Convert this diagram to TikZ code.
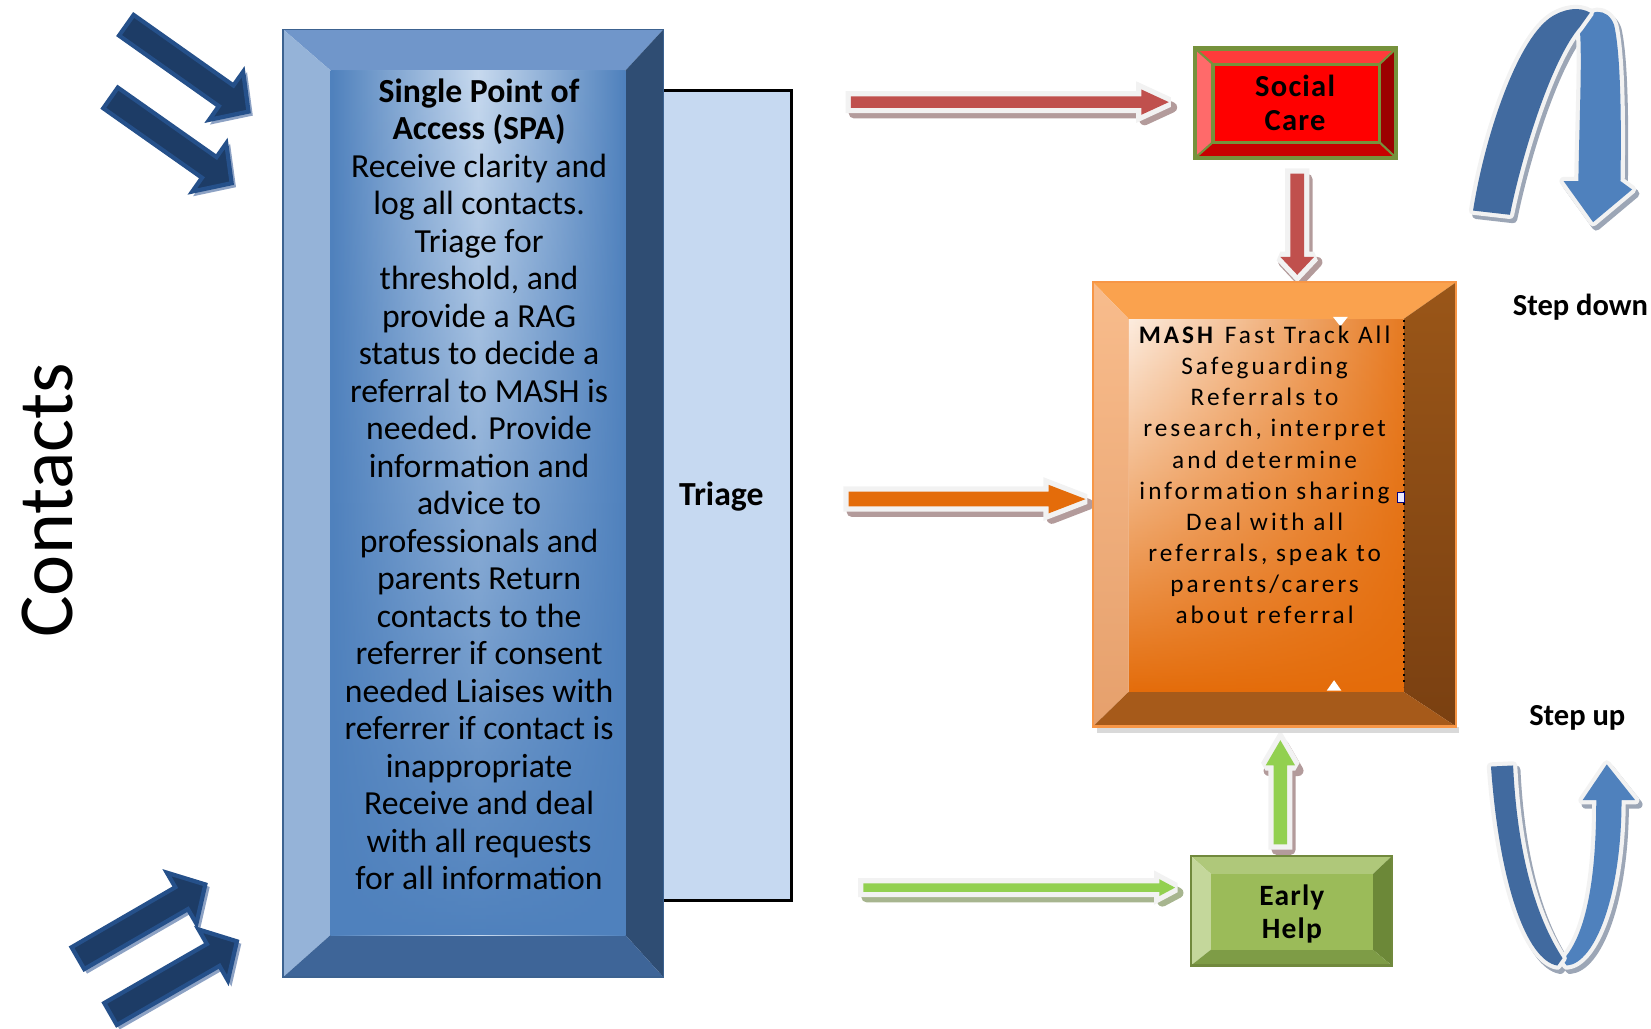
\documentclass[tikz,border=0pt]{standalone}
\usepackage{fontspec}
\setmainfont{Carlito}
\newfontfamily\mashfont[LetterSpace=12]{Carlito}
\newfontfamily\boxfont[LetterSpace=4]{Carlito}
\usetikzlibrary{calc,fadings}

\definecolor{spaTop}{HTML}{7096CA}
\definecolor{spaLeft}{HTML}{95B3D8}
\definecolor{spaRight}{HTML}{2F4D73}
\definecolor{spaBottom}{HTML}{3E6598}
\definecolor{spaLine}{HTML}{3C6290}
\definecolor{spaEdge}{HTML}{4F81BD}
\definecolor{spaLight}{HTML}{C8DAEF}
\definecolor{triFill}{HTML}{C6D9F1}
\definecolor{scTop}{HTML}{FF3B3B}
\definecolor{scLeft}{HTML}{FF6A6A}
\definecolor{scRight}{HTML}{9C0000}
\definecolor{scBottom}{HTML}{C80000}
\definecolor{scFace}{HTML}{FF0000}
\definecolor{scLine}{HTML}{76923C}
\definecolor{maTop}{HTML}{FAA24E}
\definecolor{maLeftT}{HTML}{F8BC8C}
\definecolor{maLeftB}{HTML}{E6A06C}
\definecolor{maRightT}{HTML}{9A5618}
\definecolor{maRightB}{HTML}{7A4011}
\definecolor{maBottom}{HTML}{A65A1A}
\definecolor{maLine}{HTML}{F79646}
\definecolor{maLight}{HTML}{FDEDE0}
\definecolor{maOrange}{HTML}{E46C0A}
\definecolor{ehTop}{HTML}{AFC87A}
\definecolor{ehLeft}{HTML}{C4D79B}
\definecolor{ehRight}{HTML}{6C8838}
\definecolor{ehBottom}{HTML}{7E9C46}
\definecolor{ehFace}{HTML}{9BBB59}
\definecolor{ehLine}{HTML}{71893D}
\definecolor{arRed}{HTML}{C0504D}
\definecolor{arOrange}{HTML}{E46C0A}
\definecolor{arGreen}{HTML}{92D050}
\definecolor{arOut}{HTML}{F2F2F2}
\definecolor{arShadow}{HTML}{B39B9B}
\definecolor{arShadowG}{HTML}{A7B58F}
\definecolor{ctFill}{HTML}{1D3C66}
\definecolor{ctEdge}{HTML}{25508A}
\definecolor{ctShadow}{HTML}{8DA2C4}
\definecolor{cvDark}{HTML}{416A9F}
\definecolor{cvLight}{HTML}{4F81BD}
\definecolor{cvShadow}{HTML}{9CA6B6}

\tikzfading[name=upfade, top color=transparent!100, middle color=transparent!70, bottom color=transparent!0]

\newcommand{\bevelbox}[8]{%
  \path[btop] (#1,#2) -- (#3,#2) -- (#7,#6) -- (#5,#6) -- cycle;
  \path[bleft] (#1,#2) -- (#5,#6) -- (#5,#8) -- (#1,#4) -- cycle;
  \path[bright] (#3,#2) -- (#3,#4) -- (#7,#8) -- (#7,#6) -- cycle;
  \path[bbot] (#1,#4) -- (#5,#8) -- (#7,#8) -- (#3,#4) -- cycle;
}
\newcommand{\arrowpath}[6]{%
  \coordinate (bkN) at ($(#2)!#5!(#1)$);
  \path[#6] ($(#1)!#3!90:(#2)$) -- ($(bkN)!#3!90:(#2)$) -- ($(bkN)!#4!90:(#2)$) -- (#2)
     -- ($(bkN)!#4!-90:(#2)$) -- ($(bkN)!#3!-90:(#2)$) -- ($(#1)!#3!-90:(#2)$) -- cycle;
}
\newcommand{\blockarrow}[7]{%
  \arrowpath{#1}{#2}{#3}{#4}{#5}{fill=#7, draw=#7, line width=5pt, line join=round, transform canvas={shift={(1.5pt,-2.5pt)}}}
  \arrowpath{#1}{#2}{#3}{#4}{#5}{fill=arOut, draw=arOut, line width=5pt, line join=miter, miter limit=2}
  \arrowpath{#1}{#2}{#3}{#4}{#5}{fill=#6}
}
\newcommand{\contactarrow}[2]{%
  \arrowpath{#1}{#2}{6pt}{14pt}{13pt}{fill=ctShadow, draw=ctShadow, line width=1pt, transform canvas={shift={(1.5pt,-1.5pt)}}}
  \arrowpath{#1}{#2}{6pt}{14pt}{13pt}{fill=ctFill, draw=ctEdge, line width=2pt, line join=miter}
}
\newcommand{\ribbonshadow}[1]{%
  \path[fill=cvShadow, draw=cvShadow, line width=4pt, line join=round, transform canvas={shift={(1.5pt,-2pt)}}] #1;
}
\newcommand{\ribbonbody}[2]{%
  \path[fill=arOut, draw=arOut, line width=4pt, line join=round] #1;
  \path[fill=#2] #1;
}

\begin{document}
\begin{tikzpicture}[x=0.5pt, y=-0.5pt]
\useasboundingbox (0,0) rectangle (1568,977);

% ---- contact arrows
\coordinate (c1s) at (120,24);  \coordinate (c1t) at (236,106);
\coordinate (c2s) at (105,93);  \coordinate (c2t) at (220,174);
\coordinate (c3s) at (74,910);  \coordinate (c3t) at (195,840);
\coordinate (c4s) at (105,963); \coordinate (c4t) at (225,894);
\contactarrow{c1s}{c1t}
\contactarrow{c2s}{c2t}
\contactarrow{c3s}{c3t}
\contactarrow{c4s}{c4t}

% ---- triage panel
\draw[line width=1.5pt, fill=triFill] (600,86) rectangle (752,855);

% ---- SPA box
\begin{scope}[btop/.style={fill=spaTop}, bleft/.style={fill=spaLeft}, bright/.style={fill=spaRight}, bbot/.style={fill=spaBottom}]
\bevelbox{269}{28}{630}{928}{314}{67}{594}{888}
\end{scope}
\shade[left color=spaEdge, right color=spaEdge, middle color=spaLight] (314,67) rectangle (594,888);
\fill[spaEdge, path fading=upfade] (314,67) rectangle (594,888);
\draw[spaLine, line width=0.8pt] (269,28) rectangle (630,928);

% ---- block arrows
\coordinate (rS) at (808,97);   \coordinate (rT) at (1110,97);
\coordinate (oS) at (806,474);  \coordinate (oT) at (1031,474);
\coordinate (gS) at (820,843);  \coordinate (gT) at (1116,843);
\coordinate (dS) at (1232,165); \coordinate (dT) at (1232,261);
\coordinate (uS) at (1216,802); \coordinate (uT) at (1216,703);
\blockarrow{rS}{rT}{2.75pt}{6pt}{13pt}{arRed}{arShadow}
\blockarrow{oS}{oT}{3.5pt}{6.75pt}{17.5pt}{arOrange}{arShadow}
\blockarrow{gS}{gT}{2pt}{4pt}{7.5pt}{arGreen}{arShadowG}
\blockarrow{dS}{dT}{3.25pt}{8pt}{8.5pt}{arRed}{arShadow}
\blockarrow{uS}{uT}{3.25pt}{7pt}{12pt}{arGreen}{arShadow}

% ---- Social Care box
\begin{scope}[btop/.style={fill=scTop}, bleft/.style={fill=scLeft}, bright/.style={fill=scRight}, bbot/.style={fill=scBottom}]
\bevelbox{1135}{46}{1326}{150}{1152}{61}{1310}{135}
\end{scope}
\fill[scFace] (1152,61) rectangle (1310,135);
\draw[scLine, line width=1.5pt] (1152,61) rectangle (1310,135);
\draw[scLine, line width=1pt] (1135,46) -- (1152,61) (1326,46) -- (1310,61) (1135,150) -- (1152,135) (1326,150) -- (1310,135);
\draw[scLine, line width=2pt] (1135,46) rectangle (1326,150);

% ---- MASH box
\fill[black!15] (1042,690) rectangle (1386,696);
\begin{scope}[btop/.style={fill=maTop}, bleft/.style={top color=maLeftT, bottom color=maLeftB}, bright/.style={top color=maRightT, bottom color=maRightB}, bbot/.style={fill=maBottom}]
\bevelbox{1038}{268}{1383}{690}{1072}{303}{1333}{657}
\end{scope}
\shade[left color=maLight, right color=maOrange!90!white] (1072,303) rectangle (1333,657);
\fill[maOrange, path fading=upfade] (1072,303) rectangle (1333,657);
\draw[maLine, line width=1pt] (1038,268) rectangle (1383,690);
\draw[black, dotted, line width=1pt] (1333,304) -- (1333,652);
\fill[white] (1266,301) -- (1280,301) -- (1273,310) -- cycle;
\fill[white] (1260,656) -- (1274,656) -- (1267,646) -- cycle;
\draw[fill=blue!8, draw=blue!50!black, line width=0.4pt] (1327,468) rectangle (1334,477);

% ---- Early Help box
\begin{scope}[btop/.style={fill=ehTop}, bleft/.style={fill=ehLeft}, bright/.style={fill=ehRight}, bbot/.style={fill=ehBottom}]
\bevelbox{1131}{813}{1322}{917}{1150}{830}{1304}{902}
\end{scope}
\fill[ehFace] (1150,830) rectangle (1304,902);
\draw[ehLine, line width=1.2pt] (1131,813) rectangle (1322,917);

% ---- curved step arrows
\ribbonshadow{(1500,24) .. controls (1507,8) and (1527,6) .. (1533,24) .. controls (1539,50) and (1540,110) .. (1539,172) -- (1550,180) -- (1513,211) -- (1485,172) -- (1499,172) .. controls (1500,110) and (1503,50) .. (1500,24) -- cycle}
\ribbonshadow{(1399,200) .. controls (1410,130) and (1440,40) .. (1472,17) .. controls (1485,8) and (1500,6) .. (1510,12) -- (1500,26) .. controls (1475,55) and (1447,140) .. (1434,204) -- cycle}
\ribbonshadow{(1488,917) .. controls (1515,915) and (1540,850) .. (1540,760) -- (1553,760) -- (1526,726) -- (1503,760) -- (1516,760) .. controls (1516,840) and (1505,890) .. (1484,912) -- cycle}
\ribbonshadow{(1416,728) -- (1437,727) .. controls (1441,810) and (1458,870) .. (1484,910) -- (1479,917) .. controls (1450,912) and (1424,840) .. (1416,728) -- cycle}
\ribbonbody{(1500,24) .. controls (1507,8) and (1527,6) .. (1533,24) .. controls (1539,50) and (1540,110) .. (1539,172) -- (1550,180) -- (1513,211) -- (1485,172) -- (1499,172) .. controls (1500,110) and (1503,50) .. (1500,24) -- cycle}{cvLight}
\ribbonbody{(1399,200) .. controls (1410,130) and (1440,40) .. (1472,17) .. controls (1485,8) and (1500,6) .. (1510,12) -- (1500,26) .. controls (1475,55) and (1447,140) .. (1434,204) -- cycle}{cvDark}
\ribbonbody{(1488,917) .. controls (1515,915) and (1540,850) .. (1540,760) -- (1553,760) -- (1526,726) -- (1503,760) -- (1516,760) .. controls (1516,840) and (1505,890) .. (1484,912) -- cycle}{cvLight}
\ribbonbody{(1416,728) -- (1437,727) .. controls (1441,810) and (1458,870) .. (1484,910) -- (1479,917) .. controls (1450,912) and (1424,840) .. (1416,728) -- cycle}{cvDark}

% ---- texts
\node[rotate=90, inner sep=0, font=\fontsize{37}{40}\selectfont] (contacts) at (45,475) {Contacts};
\node[inner sep=0, align=center, font=\fontsize{16}{17.8}\selectfont] (spa) at (455,460)
 {\textbf{Single Point of}\\\textbf{Access (SPA)}\\Receive clarity and\\log all contacts.\\Triage for\\threshold, and\\provide a RAG\\status to decide a\\referral to MASH is\\needed. Provide\\information and\\advice to\\professionals and\\parents Return\\contacts to the\\referrer if consent\\needed Liaises with\\referrer if contact is\\inappropriate\\Receive and deal\\with all requests\\for all information};
\node[inner sep=0, font=\bfseries\fontsize{16}{18}\selectfont] (triage) at (685,472) {Triage};
\node[inner sep=0, align=center, font=\boxfont\bfseries\fontsize{14.5}{16}\selectfont] (social) at (1230,98) {Social\\Care};
\node[inner sep=0, align=center, font=\mashfont\fontsize{12}{14.75}\selectfont] (mash) at (1201,451)
 {\textbf{MASH} Fast Track All\\Safeguarding\\Referrals to\\research, interpret\\and determine\\information sharing\\Deal with all\\referrals, speak to\\parents/carers\\about referral};
\node[inner sep=0, align=center, font=\boxfont\bfseries\fontsize{14}{15.5}\selectfont] (early) at (1227,868) {Early\\Help};
\node[inner sep=0, font=\bfseries\fontsize{14.5}{16}\selectfont] (stepdown) at (1501,292) {Step down};
\node[inner sep=0, font=\bfseries\fontsize{14.5}{16}\selectfont] (stepup) at (1498,682) {Step up};
\end{tikzpicture}
\end{document}
